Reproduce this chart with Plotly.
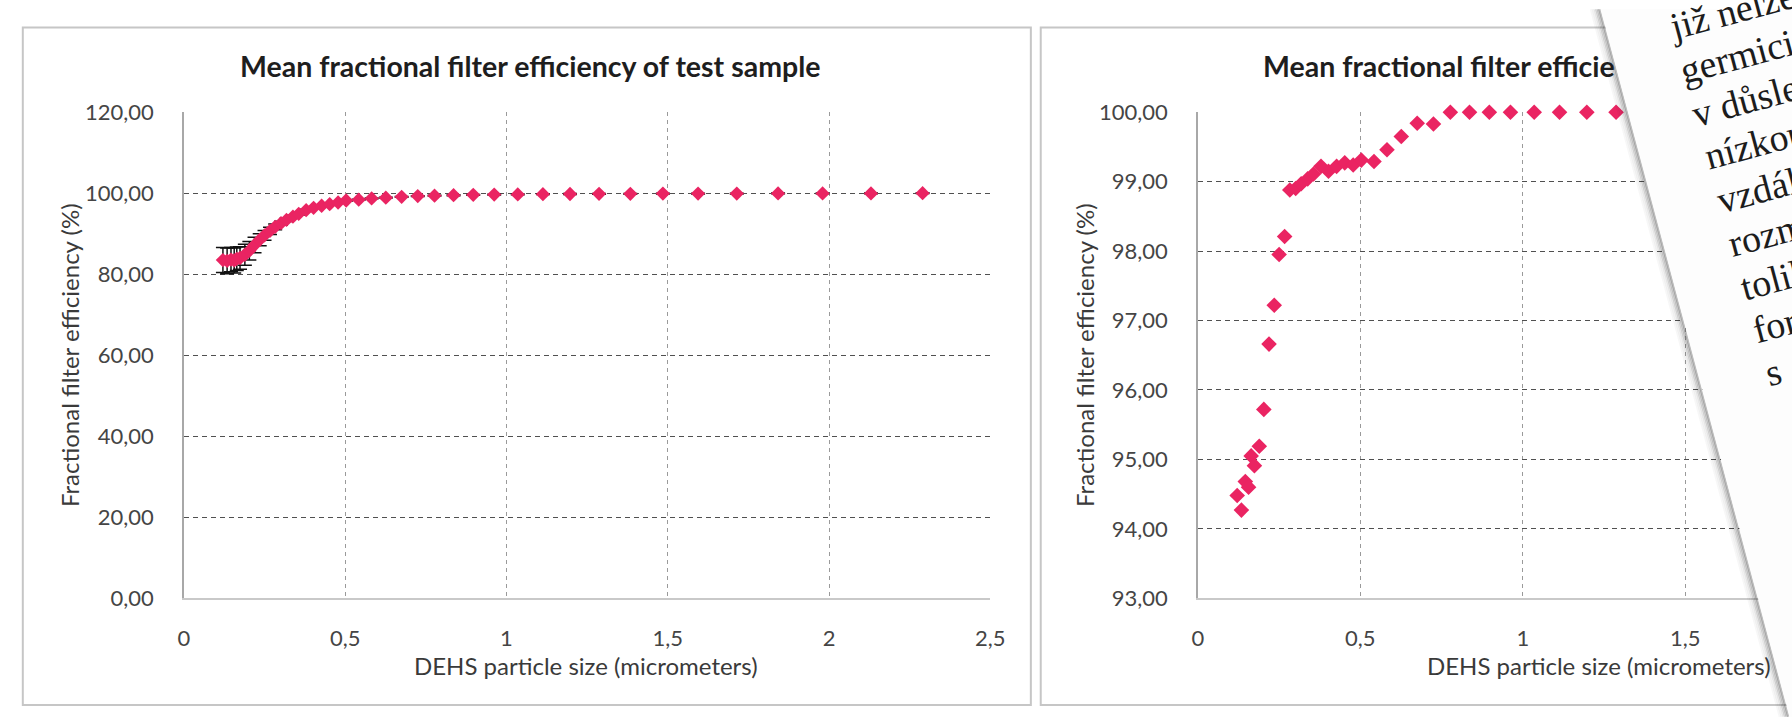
import math
import plotly.graph_objects as go

# ---------------- data ----------------
particle_size = [0.121, 0.134, 0.146, 0.156, 0.164, 0.174, 0.189, 0.203, 0.219, 0.235,
                 0.250, 0.267, 0.283, 0.301, 0.318, 0.338, 0.356, 0.379, 0.402, 0.427,
                 0.452, 0.478, 0.503, 0.542, 0.582, 0.626, 0.675, 0.725, 0.777, 0.836,
                 0.897, 0.962, 1.035, 1.113, 1.197, 1.287, 1.384, 1.485, 1.594, 1.714,
                 1.842, 1.980, 2.130, 2.290]

eff_test = [83.5, 83.3, 83.6, 83.4, 83.8, 84.0, 84.8, 85.8, 87.2, 88.5,
            89.6, 90.7, 91.7, 92.6, 93.4, 94.2, 94.9, 95.8, 96.4, 96.9,
            97.3, 97.7, 98.2, 98.4, 98.7, 98.9, 99.1, 99.3, 99.4, 99.5,
            99.6, 99.65, 99.7, 99.75, 99.8, 99.85, 99.85, 99.9, 99.9, 99.9,
            99.95, 99.95, 99.95, 100.0]

err_test = [3.1, 3.2, 3.0, 3.1, 2.9, 2.8, 2.6, 2.3, 1.9, 1.5,
            1.2, 0.9, 0.7, 0.5, 0.4, 0.35, 0.3, 0.25, 0.2, 0.2,
            0.15, 0.15, 0.1, 0.1, 0.1, 0.1, 0.1, 0.1, 0.1, 0.1,
            0.1, 0.1, 0.1, 0.1, 0.1, 0.1, 0.1, 0.1, 0.1, 0.1,
            0.1, 0.1, 0.1, 0.1]

eff_second = [94.48, 94.27, 94.68, 94.60, 95.05, 94.91, 95.19, 95.72, 96.66, 97.22,
              97.95, 98.21, 98.88, 98.90, 98.97, 99.04, 99.11, 99.22, 99.15, 99.22,
              99.27, 99.24, 99.31, 99.29, 99.46, 99.65, 99.84, 99.83, 100.0, 100.0,
              100.0, 100.0, 100.0, 100.0, 100.0, 100.0, 100.0, 100.0, 100.0, 100.0,
              100.0, 100.0, 100.0, 100.0]

x_ticks = [0, 0.5, 1, 1.5, 2, 2.5]
y_ticks_left = [0, 20, 40, 60, 80, 100, 120]
y_ticks_right = [93, 94, 95, 96, 97, 98, 99, 100]

title_left = "Mean fractional filter efficiency of test sample"
title_right_visible = "Mean fractional filter efficie"
x_title = "DEHS particle size (micrometers)"
y_title = "Fractional filter efficiency (%)"

page_lines = ["již nelze", "germicidní", "v důsledku", "nízkou", "vzdálenost",
              "rozměry", "tolik", "forma", "s"]

# ---------------- geometry helpers ----------------
W, H = 1792, 721


def px(x):
    return x / W


def py(y):
    return 1 - y / H


PINK = "#EA2462"
TICK_FONT = dict(family="Lato", size=22, color="#454545")
X_TITLE_FONT = dict(family="Lato", size=24, color="#3a3a3a")
Y_TITLE_FONT = dict(family="Lato", size=24, color="#3a3a3a")
TITLE_FONT = dict(family="Lato", size=28.5, color="#1e1e1e")

fig = go.Figure()

fig.add_trace(go.Scatter(
    x=particle_size, y=eff_test, mode="markers",
    marker=dict(symbol="diamond", size=11, color=PINK, line=dict(width=0)),
    error_y=dict(type="data", array=err_test, color="#111111", thickness=1.5, width=7),
    xaxis="x", yaxis="y", cliponaxis=False, showlegend=False,
))

fig.add_trace(go.Scatter(
    x=particle_size, y=eff_second, mode="markers",
    marker=dict(symbol="diamond", size=12, color=PINK, line=dict(width=0)),
    xaxis="x2", yaxis="y2", cliponaxis=False, showlegend=False,
))

plot_top, plot_bot = 102, 607
left_x0, left_x1 = 180, 996
right_x0 = 1206
right_ppu = 328.8

common_x = dict(
    tickmode="array", tickvals=x_ticks, showgrid=True, gridcolor="#9a9a9a",
    griddash="4px,4px", gridwidth=1.3, zeroline=False, showline=True,
    linecolor="#c9c9c9", linewidth=2, ticks="", tickfont=TICK_FONT,
    ticklabelstandoff=19,
)
common_y = dict(
    tickmode="array", tickformat=".2f", showgrid=True, gridcolor="#505050",
    griddash="5px,4px", gridwidth=1.4, zeroline=False, showline=True,
    linecolor="#a8a8a8", linewidth=1.5, ticks="", tickfont=TICK_FONT,
    ticklabelstandoff=24,
)

fig.update_layout(
    width=W, height=H,
    margin=dict(l=0, r=0, t=0, b=0),
    paper_bgcolor="white", plot_bgcolor="white",
    separators=", ",
    xaxis=dict(domain=[px(left_x0), px(left_x1)], range=[0, 2.5], anchor="y", **common_x),
    yaxis=dict(domain=[py(plot_bot), py(plot_top)], range=[0, 120], anchor="x",
               tickvals=y_ticks_left, **common_y),
    xaxis2=dict(domain=[px(right_x0), 1], range=[0, (W - right_x0) / right_ppu],
                anchor="y2", **common_x),
    yaxis2=dict(domain=[py(plot_bot), py(plot_top)], range=[93, 100], anchor="x2",
                tickvals=y_ticks_right, **common_y),
)

shapes = []
# chart panels
shapes.append(dict(type="rect", xref="paper", yref="paper",
                   x0=px(17), x1=px(1037), y0=py(718), y1=py(14),
                   line=dict(color="#c6c6c6", width=2), layer="below"))
shapes.append(dict(type="rect", xref="paper", yref="paper",
                   x0=px(1047), x1=px(1900), y0=py(718), y1=py(14),
                   line=dict(color="#c6c6c6", width=2), layer="below"))

# overlapping page (rotated sheet of paper) with its shadow
edge_x0, slope = 1615, 0.26
for d, a in [(10, 0.04), (8, 0.07), (6, 0.11), (4.5, 0.16), (3, 0.22), (1.5, 0.32)]:
    shapes.append(dict(type="line", xref="paper", yref="paper",
                       x0=px(edge_x0 - d - slope * 5), y0=py(-5),
                       x1=px(edge_x0 - d + slope * 730), y1=py(730),
                       line=dict(color=f"rgba(50,50,50,{a})", width=2.2), layer="above"))
page_path = (f"M {px(edge_x0 - slope * 5)},{py(-5)} L {px(1900)},{py(-5)} "
             f"L {px(1900)},{py(730)} L {px(edge_x0 + slope * 730)},{py(730)} Z")
shapes.append(dict(type="path", xref="paper", yref="paper", path=page_path,
                   fillcolor="#fdfdfd", line=dict(width=0), layer="above"))
fig.update_layout(shapes=shapes)

annotations = [
    dict(text=f"<b>{title_left}</b>", x=px(531), y=py(54), font=TITLE_FONT),
    dict(text=f"<b>{title_right_visible}</b>", x=px(1270), y=py(54), xanchor="left",
         font=TITLE_FONT),
    dict(text=x_title, x=px(587), y=py(677), font=X_TITLE_FONT),
    dict(text=x_title, x=px(1612), y=py(677), font=X_TITLE_FONT),
    dict(text=y_title, x=px(64), y=py(354), textangle=-90, font=Y_TITLE_FONT),
    dict(text=y_title, x=px(1092), y=py(354), textangle=-90, font=Y_TITLE_FONT),
]
for a in annotations:
    a.update(xref="paper", yref="paper", showarrow=False)
    a.setdefault("xanchor", "center")
    a.setdefault("yanchor", "middle")

# text lines on the overlapping page, each rotated and anchored at its lower-left corner
fs = 38
theta = math.radians(15)
s, c = math.sin(theta), math.cos(theta)
box_h = 1.107 * fs + 4
desc = 0.216 * fs + 2
first_base = (1684, 28)
step = (12.25, 45.0)
for i, line in enumerate(page_lines):
    bx = first_base[0] + i * step[0]
    by = first_base[1] + i * step[1]
    bl_x = bx + desc * s
    bl_y = by + desc * c
    annotations.append(dict(
        text=line, xref="paper", yref="paper", showarrow=False,
        x=px(bl_x - box_h * s), y=py(bl_y), xanchor="left", yanchor="bottom",
        align="left", textangle=-15,
        font=dict(family="Liberation Serif", size=fs, color="#1c1c1c"),
    ))
fig.update_layout(annotations=annotations)

fig.write_html("out.html", config={"displayModeBar": False},
               post_script="document.body.style.margin='0px';")
